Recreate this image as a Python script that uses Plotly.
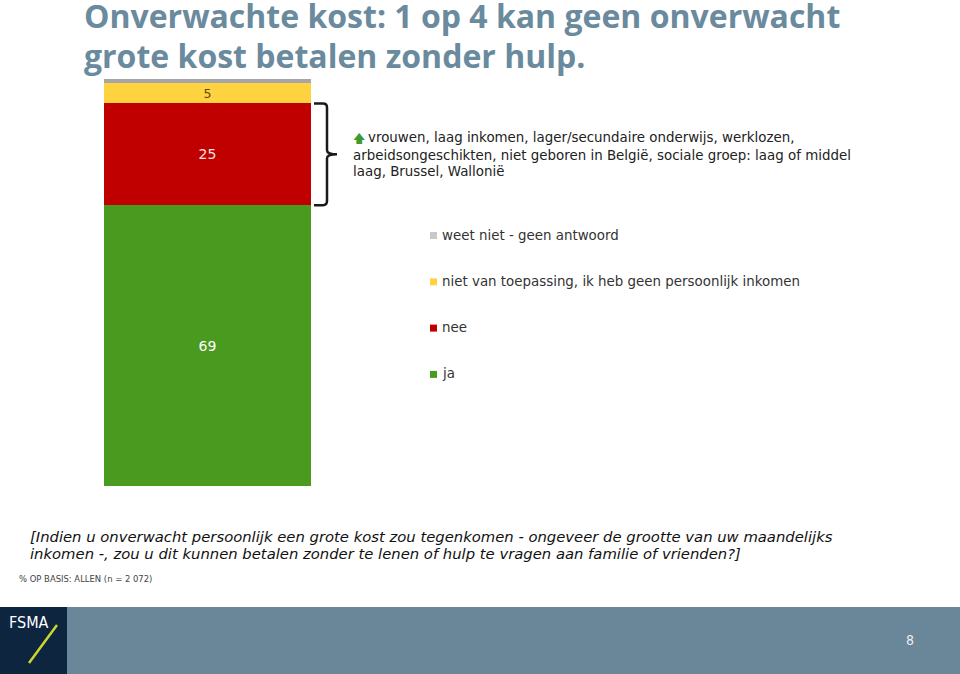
import plotly.graph_objects as go

W, H = 960, 674

# data
categories = ["ja", "nee", "niet van toepassing, ik heb geen persoonlijk inkomen", "weet niet - geen antwoord"]
values = [69, 25, 5, 1]
colors = ["#4a9a1f", "#c00000", "#ffd23f", "#a6a6a6"]
legend_colors = ["#4a9a1f", "#c00000", "#ffd23f", "#c8c8c8"]
label_colors = ["#ffffff", "#f4e0e0", "#5a4a10", "#ffffff"]
show_label = [True, True, True, False]

title_lines = ["Onverwachte kost: 1 op 4 kan geen onverwacht", "grote kost betalen zonder hulp."]
profile_lines = ["vrouwen, laag inkomen, lager/secundaire onderwijs, werklozen,",
                 "arbeidsongeschikten, niet geboren in België, sociale groep: laag of middel",
                 "laag, Brussel, Wallonië"]
question_lines = ["[Indien u onverwacht persoonlijk een grote kost zou tegenkomen - ongeveer de grootte van uw maandelijks",
                  "inkomen -, zou u dit kunnen betalen zonder te lenen of hulp te vragen aan familie of vrienden?]"]
basis_text = "% OP BASIS: ALLEN (n = 2 072)"
page_no = "8"


def px(x):
    return x / W


def py(y):
    return 1 - y / H


fig = go.Figure()
for cat, v, c, lc, sl in zip(categories, values, colors, label_colors, show_label):
    fig.add_trace(go.Bar(x=[0], y=[v], name=cat, marker=dict(color=c, line=dict(width=0)),
                         width=1, text=[str(v) if sl else ""], textposition="inside",
                         insidetextanchor="middle", textangle=0,
                         textfont=dict(family="DejaVu Sans", size=14, color=lc),
                         showlegend=False, hoverinfo="skip"))

shapes = []
annotations = []

# title
for i, t in enumerate(title_lines):
    annotations.append(dict(x=px(82), y=py(15 + i * 41), xref="paper", yref="paper", text="<b>" + t + "</b>",
                            showarrow=False, xanchor="left", yanchor="middle",
                            font=dict(family="Open Sans", size=32, color="#6a8a9e")))

# brace around "nee" segment
y0 = values[0]
y1 = values[0] + values[1]
ym = (y0 + y1) / 2
shapes.append(dict(type="path", xref="paper", yref="y",
                   path=(f"M {px(314)} {y1} L {px(323)} {y1} Q {px(327)} {y1} {px(327)} {y1-1} "
                         f"L {px(327)} {ym+1} Q {px(327)} {ym} {px(337)} {ym} "
                         f"Q {px(327)} {ym} {px(327)} {ym-1} L {px(327)} {y0+1} "
                         f"Q {px(327)} {y0} {px(323)} {y0} L {px(314)} {y0}"),
                   line=dict(color="#1a1a1a", width=2.5)))

annotations.append(dict(x=px(351), y=py(139), xref="paper", yref="paper", text="🡅",
                        showarrow=False, xanchor="left", yanchor="middle",
                        font=dict(family="DejaVu Sans", size=12, color="#3c9a2e")))
for i, t in enumerate(profile_lines):
    annotations.append(dict(x=px(366 if i == 0 else 351), y=py(138 + i * 17), xref="paper", yref="paper", text=t,
                            showarrow=False, xanchor="left", yanchor="middle",
                            font=dict(family="DejaVu Sans", size=13.4, color="#222222")))

# legend (top to bottom reversed order)
for k, i in enumerate(reversed(range(len(categories)))):
    yy = 235 + k * 46.3
    shapes.append(dict(type="rect", xref="paper", yref="paper", x0=px(430), x1=px(437),
                       y0=py(yy + 4), y1=py(yy - 3), fillcolor=legend_colors[i], line=dict(width=0)))
    annotations.append(dict(x=px(440), y=py(yy), xref="paper", yref="paper",
                            text=categories[i],
                            showarrow=False, xanchor="left", yanchor="middle",
                            font=dict(family="DejaVu Sans", size=13.4, color="#333333")))

# question
for i, t in enumerate(question_lines):
    annotations.append(dict(x=px(28), y=py(536 + i * 17), xref="paper", yref="paper", text="<i>" + t + "</i>",
                            showarrow=False, xanchor="left", yanchor="middle",
                            font=dict(family="DejaVu Sans", size=14.8, color="#111111")))

annotations.append(dict(x=px(17), y=py(578), xref="paper", yref="paper", text=basis_text,
                        showarrow=False, xanchor="left", yanchor="middle",
                        font=dict(family="DejaVu Sans Condensed", size=9.4, color="#444444")))

# footer band
shapes.append(dict(type="rect", xref="paper", yref="paper", x0=0, x1=1, y0=0, y1=py(607),
                   fillcolor="#6a8799", line=dict(width=0), layer="below"))
shapes.append(dict(type="rect", xref="paper", yref="paper", x0=0, x1=px(67), y0=0, y1=py(607),
                   fillcolor="#0e2540", line=dict(width=0), layer="below"))
shapes.append(dict(type="line", xref="paper", yref="paper", x0=px(29), y0=py(663), x1=px(57), y1=py(625),
                   line=dict(color="#c8d82c", width=2.5)))
annotations.append(dict(x=px(7), y=py(622), xref="paper", yref="paper", text="FSMA",
                        showarrow=False, xanchor="left", yanchor="middle",
                        font=dict(family="DejaVu Sans Condensed", size=16, color="#ffffff")))
annotations.append(dict(x=px(910), y=py(640), xref="paper", yref="paper", text=page_no,
                        showarrow=False, xanchor="center", yanchor="middle",
                        font=dict(family="DejaVu Sans Condensed", size=14, color="#eeeeee")))

fig.update_layout(
    width=W, height=H, margin=dict(l=0, r=0, t=0, b=0),
    paper_bgcolor="white", plot_bgcolor="white",
    barmode="stack", bargap=0,
    xaxis=dict(domain=[px(104), px(311)], range=[-0.5, 0.5], visible=False, fixedrange=True),
    yaxis=dict(domain=[py(486), py(79)], range=[0, 100], visible=False, fixedrange=True),
    shapes=shapes, annotations=annotations, showlegend=False,
)

fig.write_html("out.html", config={"staticPlot": True},
               post_script="document.body.style.margin='0';document.body.style.overflow='hidden';")
